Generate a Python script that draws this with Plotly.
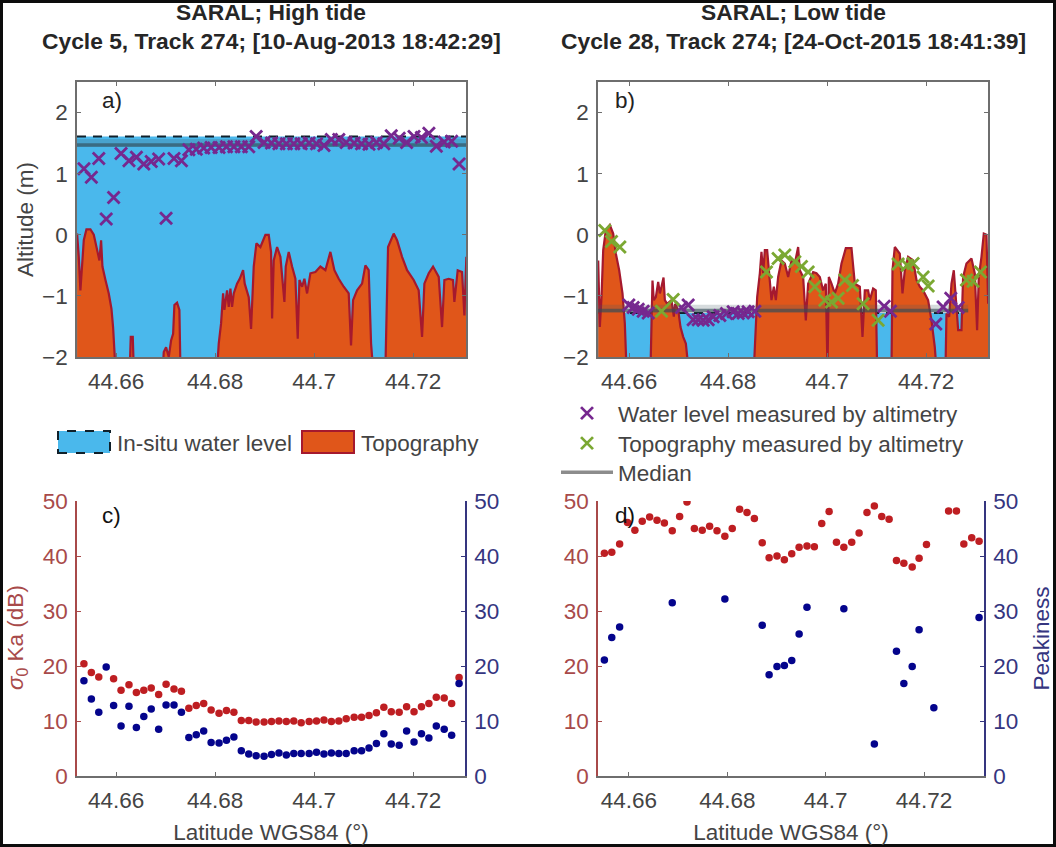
import plotly.graph_objects as go

W, H = 1056, 847

# topography profiles (lat, altitude)
topo_a = [
    (44.65212, 0.02), (44.65246, -0.36), (44.65279, -0.91), (44.65313, -0.52), (44.65347, -0.09),
    (44.65401, 0.09), (44.65481, 0.09), (44.65549, 0.0), (44.65616, -0.25), (44.65663, -0.42),
    (44.65697, -0.09), (44.65724, -0.52), (44.65785, -0.74), (44.65852, -0.96), (44.65906, -1.21),
    (44.65939, -1.51), (44.65987, -2.2),
    (44.66276, -2.2), (44.66296, -1.67), (44.66337, -1.67), (44.66357, -2.2),
    (44.66943, -2.2), (44.66963, -1.92), (44.67010, -1.84), (44.67064, -2.0), (44.67111, -1.73),
    (44.67152, -1.62), (44.67178, -1.15), (44.67232, -1.11), (44.67279, -1.23), (44.67300, -2.2),
    (44.68040, -2.2), (44.68074, -1.78), (44.68121, -1.45), (44.68162, -0.96), (44.68189, -1.23),
    (44.68242, -0.91), (44.68276, -1.18), (44.68310, -0.88), (44.68343, -1.18), (44.68377, -0.96),
    (44.68444, -0.80), (44.68498, -0.72), (44.68566, -0.58), (44.68599, -0.80), (44.68680, -1.02),
    (44.68727, -1.54), (44.68754, -1.13), (44.68781, -0.52), (44.68835, -0.14), (44.68916, -0.20),
    (44.69017, 0.0), (44.69084, 0.0), (44.69131, -0.28), (44.69152, -1.37), (44.69185, -0.42),
    (44.69253, -0.20), (44.69320, -0.36), (44.69401, -1.10), (44.69428, -0.52), (44.69488, -0.28),
    (44.69556, -0.52), (44.69623, -0.72), (44.69670, -1.70), (44.69704, -0.74), (44.69758, -0.85),
    (44.69805, -0.72), (44.69859, -0.96), (44.69926, -0.63), (44.70027, -0.61), (44.70128, -0.52),
    (44.70229, -0.58), (44.70330, -0.28), (44.70411, -0.58), (44.70498, -0.72), (44.70599, -0.85),
    (44.70700, -0.96), (44.70747, -1.81), (44.70788, -1.07), (44.70869, -0.91), (44.70970, -0.80),
    (44.71037, -0.50), (44.71104, -0.58), (44.71152, -1.78), (44.71192, -2.2),
    (44.71441, -2.2), (44.71475, -0.85), (44.71495, -0.20), (44.71609, 0.02), (44.71677, -0.09),
    (44.71778, -0.36), (44.71879, -0.58), (44.72013, -0.74), (44.72114, -0.91), (44.72182, -1.67),
    (44.72229, -0.80), (44.72317, -0.63), (44.72404, -0.52), (44.72519, -0.69), (44.72586, -1.51),
    (44.72633, -0.74), (44.72720, -0.72), (44.72808, -0.74), (44.72835, -1.10), (44.72902, -0.58),
    (44.72990, -0.61), (44.73037, -1.32), (44.73077, -0.36),
]
topo_b = [
    (44.65374, -0.42), (44.65407, -1.51), (44.65441, -1.02), (44.65475, -0.25), (44.65529, 0.08),
    (44.65609, 0.16), (44.65677, 0.02), (44.65731, -0.31), (44.65798, -0.58), (44.65865, -0.96),
    (44.65912, -1.45), (44.65946, -2.2),
    (44.66431, -2.2), (44.66451, -1.62), (44.66471, -0.75), (44.66498, -1.07), (44.66539, -1.02),
    (44.66586, -0.77), (44.66620, -0.96), (44.66653, -0.85), (44.66694, -0.70), (44.66721, -1.07),
    (44.66768, -1.13), (44.66855, -1.07), (44.66902, -1.34), (44.66929, -1.13), (44.66990, -1.23),
    (44.67037, -1.51), (44.67091, -1.67), (44.67145, -1.78), (44.67199, -2.2),
    (44.68519, -2.2), (44.68559, -1.45), (44.68586, -1.02), (44.68640, -0.63), (44.68673, -0.28),
    (44.68707, -0.63), (44.68741, -0.25), (44.68788, -0.25), (44.68828, -0.69), (44.68875, -1.07),
    (44.68923, -0.85), (44.68963, -1.07), (44.69010, -0.69), (44.69077, -0.42), (44.69145, -0.47),
    (44.69212, -0.69), (44.69279, -0.42), (44.69347, -0.47), (44.69414, -0.20), (44.69448, -0.58),
    (44.69515, -0.69), (44.69569, -1.40), (44.69616, -0.80), (44.69717, -0.61), (44.69784, -0.63),
    (44.69852, -0.69), (44.69919, -0.91), (44.69973, -0.80), (44.70007, -2.2), (44.70034, -0.69),
    (44.70088, -0.80), (44.70155, -0.96), (44.70222, -0.80), (44.70290, -0.47), (44.70377, -0.22),
    (44.70492, -0.22), (44.70559, -0.80), (44.70660, -0.85), (44.70714, -1.67), (44.70761, -0.91),
    (44.70828, -0.91), (44.70862, -1.07), (44.70929, -0.88), (44.70983, -0.91), (44.71010, -2.2),
    (44.71300, -2.2), (44.71320, -0.58), (44.71367, -0.20), (44.71468, -0.31), (44.71522, -0.96),
    (44.71569, -0.58), (44.71636, -0.36), (44.71737, -0.42), (44.71805, -0.74), (44.71872, -0.85),
    (44.71939, -0.91), (44.72040, -1.07), (44.72108, -1.40), (44.72175, -1.84), (44.72209, -2.2),
    (44.72391, -2.2), (44.72411, -1.29), (44.72465, -1.34), (44.72512, -0.80), (44.72559, -0.58),
    (44.72613, -1.29), (44.72647, -1.56), (44.72714, -1.56), (44.72747, -0.69), (44.72815, -0.47),
    (44.72916, -0.39), (44.72983, -0.63), (44.73030, -1.56), (44.73064, -0.69), (44.73118, -0.36),
    (44.73165, 0.02), (44.73219, 0.0), (44.73253, -1.13),
]

# along-track lat of the 51 measurements of cycle 5
lat_c5 = [44.6535, 44.6550, 44.6565, 44.6580, 44.6595, 44.6610, 44.6626, 44.6641, 44.6656, 44.6671,
          44.6686, 44.6701, 44.6717, 44.6732, 44.6747, 44.6762, 44.6777, 44.6792, 44.6808, 44.6823,
          44.6838, 44.6853, 44.6868, 44.6883, 44.6899, 44.6914, 44.6929, 44.6944, 44.6959, 44.6974,
          44.6990, 44.7005, 44.7020, 44.7035, 44.7050, 44.7065, 44.7081, 44.7096, 44.7111, 44.7126,
          44.7141, 44.7156, 44.7172, 44.7187, 44.7202, 44.7217, 44.7232, 44.7247, 44.7263, 44.7278,
          44.7293]
water_a = [1.08, 0.94, 1.25, 0.26, 0.61, 1.33, 1.21, 1.27, 1.16, 1.20,
           1.24, 0.27, 1.25, 1.21, 1.39, 1.40, 1.42, 1.43, 1.43, 1.44,
           1.44, 1.44, 1.44, 1.61, 1.51, 1.50, 1.49, 1.49, 1.49, 1.49,
           1.50, 1.49, 1.46, 1.56, 1.56, 1.51, 1.50, 1.49, 1.48, 1.51,
           1.49, 1.62, 1.58, 1.51, 1.61, 1.59, 1.66, 1.45, 1.52, 1.53,
           1.16]
sigma_c = [20.4, 18.8, 18.0, None, 17.7, 15.6, 16.6, 15.2, 15.6, 16.0,
           14.8, 16.7, 15.8, 15.4, 12.3, 12.8, 13.2, 12.0, 11.4, 11.9,
           11.6, 10.1, 10.1, 9.8, 9.8, 9.9, 10.0, 9.9, 10.0, 9.7,
           9.9, 10.0, 10.2, 9.9, 10.0, 10.4, 10.7, 10.7, 11.0, 11.5,
           12.5, 11.7, 11.6, 12.6, 11.7, 12.6, 13.2, 14.3, 14.2, 13.2,
           17.9]
peak_c = [17.3, 14.0, 11.6, 19.8, 12.8, 9.1, 12.7, 8.8, 10.8, 12.2,
          8.5, 12.9, 12.9, 11.6, 7.0, 7.5, 8.2, 6.1, 6.0, 6.5,
          7.1, 4.6, 4.0, 3.7, 3.6, 3.9, 4.2, 3.8, 4.1, 4.1,
          4.1, 4.3, 4.0, 4.2, 4.1, 4.1, 4.6, 4.6, 5.1, 5.9,
          7.7, 5.8, 5.6, 8.2, 6.2, 7.7, 6.9, 9.1, 8.5, 7.4,
          16.8]

water_b = [(44.65993, -1.15), (44.66081, -1.19), (44.66182, -1.22), (44.66283, -1.25), (44.66384, -1.28),
           (44.67057, -1.19), (44.67192, -1.15), (44.67293, -1.39), (44.67394, -1.39), (44.67495, -1.40),
           (44.67596, -1.39), (44.67697, -1.34), (44.67832, -1.32), (44.67966, -1.29), (44.68101, -1.26),
           (44.68202, -1.29), (44.68303, -1.28), (44.68404, -1.26), (44.68539, -1.25), (44.71152, -1.17),
           (44.71279, -1.25), (44.72195, -1.46), (44.72343, -1.18), (44.72498, -1.04), (44.72647, -1.19)]
ground_b = [(44.65508, 0.07), (44.65643, -0.11), (44.65811, -0.20), (44.66653, -1.25), (44.66889, -1.06),
            (44.68774, -0.61), (44.69010, -0.39), (44.69145, -0.33), (44.69347, -0.44), (44.69481, -0.52),
            (44.69616, -0.61), (44.69751, -0.85), (44.69953, -1.07), (44.70088, -1.10), (44.70222, -1.04),
            (44.70357, -0.74), (44.70512, -0.83), (44.70727, -1.13), (44.71030, -1.40), (44.71434, -0.48),
            (44.71616, -0.50), (44.71737, -0.47), (44.71939, -0.69), (44.72040, -0.84), (44.72815, -0.74),
            (44.72949, -0.76), (44.73098, -0.61)]

sigma_d = [(44.6550, 40.5), (44.6565, 40.7), (44.6581, 42.2), (44.6597, 46.1), (44.6612, 44.7), (44.6627, 46.3),
           (44.6642, 47.1), (44.6657, 46.5), (44.6672, 46.0), (44.6688, 44.6), (44.6703, 47.2), (44.6718, 49.8),
           (44.6733, 45.0), (44.6749, 44.7), (44.6764, 45.4), (44.6779, 44.6), (44.6795, 43.6), (44.6810, 45.0),
           (44.6825, 48.5), (44.6840, 47.9), (44.6855, 46.8), (44.6871, 42.4), (44.6885, 39.7), (44.6901, 40.0),
           (44.6916, 39.3), (44.6931, 40.4), (44.6946, 41.6), (44.6962, 41.8), (44.6977, 41.7), (44.6992, 45.9),
           (44.7007, 48.1), (44.7022, 42.5), (44.7037, 41.6), (44.7053, 42.5), (44.7068, 44.2), (44.7084, 47.9),
           (44.7099, 49.1), (44.7114, 47.2), (44.7129, 46.7), (44.7144, 39.2), (44.7159, 38.7), (44.7176, 38.0),
           (44.7190, 39.6), (44.7205, 42.1), (44.7250, 48.2), (44.7266, 48.2), (44.7281, 42.2), (44.7297, 43.3),
           (44.7312, 42.7)]
peak_d = [(44.6550, 21.1), (44.6565, 25.2), (44.6581, 27.1), (44.6688, 31.5), (44.6795, 32.2), (44.6871, 27.4),
          (44.6885, 18.4), (44.6901, 19.9), (44.6916, 20.1), (44.6931, 21.0), (44.6946, 25.8), (44.6962, 30.7),
          (44.7037, 30.4), (44.7099, 5.8), (44.7144, 22.7), (44.7159, 16.8), (44.7176, 19.9), (44.7190, 26.6),
          (44.7220, 12.4), (44.7312, 28.8)]

FONT = "Liberation Sans"
BLUE = "#4AB8EC"
ORANGE = "#E0561A"
DARKRED = "#A5192E"
PURPLE = "#76288F"
GREEN = "#7BA832"
GREY = "#444444"
AXGREY = "#6E6E6E"
REDAX = "#A84A4A"
BLUEAX = "#35357F"
TXT = 22.5


def unzip(pts):
    return [p[0] for p in pts], [p[1] for p in pts]


def dom_x(left, right):
    return [left / W, right / W]


def dom_y(top, bottom):
    return [1 - bottom / H, 1 - top / H]


fig = go.Figure()


def add_profile(xref, yref, rng, level, topo):
    # water first, orange ground over it, both filled from the -2 floor
    fig.add_trace(go.Scatter(x=rng, y=[-2, -2], xaxis=xref, yaxis=yref, mode="lines",
                             line=dict(width=0), showlegend=False, hoverinfo="skip"))
    fig.add_trace(go.Scatter(x=rng, y=[level, level], xaxis=xref, yaxis=yref, mode="lines", fill="tonexty",
                             fillcolor=BLUE, line=dict(color="#10202A", width=2, dash="9px,7px"),
                             name="In-situ water level", showlegend=False))
    lat, alt = unzip(topo)
    fig.add_trace(go.Scatter(x=lat, y=[-2] * len(lat), xaxis=xref, yaxis=yref, mode="lines",
                             line=dict(width=0), showlegend=False, hoverinfo="skip"))
    fig.add_trace(go.Scatter(x=lat, y=alt, xaxis=xref, yaxis=yref, mode="lines", fill="tonexty",
                             fillcolor=ORANGE, line=dict(color=DARKRED, width=2.2),
                             name="Topography", showlegend=False))


def add_median(x, y, xref, yref):
    # blurred in the scan: a pale halo above a darker core
    fig.add_trace(go.Scatter(x=x, y=[y + 0.03, y + 0.03], xaxis=xref, yaxis=yref, mode="lines", showlegend=False,
                             line=dict(color="rgba(70,90,100,0.22)", width=8), hoverinfo="skip"))
    fig.add_trace(go.Scatter(x=x, y=[y, y], xaxis=xref, yaxis=yref, mode="lines", showlegend=False,
                             line=dict(color="rgba(50,75,85,0.62)", width=3.5)))


def add_marks(x, y, xref, yref, color, name, legend=None):
    fig.add_trace(go.Scatter(x=x, y=y, xaxis=xref, yaxis=yref, mode="markers", name=name,
                             showlegend=legend is not None, legend=legend or "legend",
                             marker=dict(symbol="x-thin", size=12, line=dict(color=color, width=2.8))))


range_a = [44.6521, 44.7307]
range_b = [44.6537, 44.7325]
range_c = [44.6521, 44.7305]
range_d = [44.6537, 44.7322]

# a)
add_profile("x", "y", range_a, 1.61, topo_a)
add_median(range_a, 1.47, "x", "y")
add_marks(lat_c5, water_a, "x", "y", PURPLE, "Water level measured by altimetry")

# b)
add_profile("x2", "y2", range_b, -1.28, topo_b)
add_median([44.6537, 44.7285], -1.24, "x2", "y2")
add_marks(*unzip(water_b), "x2", "y2", PURPLE, "Water level measured by altimetry", legend="legend")
add_marks(*unzip(ground_b), "x2", "y2", GREEN, "Topography measured by altimetry", legend="legend2")
fig.add_trace(go.Scatter(x=[None], y=[None], xaxis="x2", yaxis="y2", mode="lines", name="Median",
                         legend="legend3", line=dict(color="#8C8C8C", width=3.5)))

# c)
fig.add_trace(go.Scatter(x=lat_c5, y=sigma_c, xaxis="x3", yaxis="y3", mode="markers", showlegend=False,
                         marker=dict(color="#BE1E22", size=7.5)))
fig.add_trace(go.Scatter(x=lat_c5, y=peak_c, xaxis="x3", yaxis="y5", mode="markers", showlegend=False,
                         marker=dict(color="#04048C", size=7.5)))

# d)
fig.add_trace(go.Scatter(x=unzip(sigma_d)[0], y=unzip(sigma_d)[1], xaxis="x4", yaxis="y4", mode="markers",
                         showlegend=False, marker=dict(color="#BE1E22", size=7.5)))
fig.add_trace(go.Scatter(x=unzip(peak_d)[0], y=unzip(peak_d)[1], xaxis="x4", yaxis="y6", mode="markers",
                         showlegend=False, marker=dict(color="#04048C", size=7.5)))

xticks = dict(tickmode="array", tickvals=[44.66, 44.68, 44.7, 44.72], ticktext=["44.66", "44.68", "44.7", "44.72"],
              ticks="inside", ticklen=4, tickcolor=AXGREY, showgrid=False, zeroline=False, ticklabelstandoff=3,
              showline=True, linecolor=AXGREY, linewidth=1.5, tickfont=dict(size=TXT, color=GREY))
alt_ticks = dict(tickmode="array", tickvals=[-2, -1, 0, 1, 2], range=[-2, 2.5], ticks="inside", ticklen=4,
                 tickcolor=AXGREY, showgrid=False, zeroline=False, showline=True, linecolor=AXGREY,
                 linewidth=1.5, ticklabelstandoff=3, tickfont=dict(size=TXT, color=GREY), domain=dom_y(82, 357))


def db_axis(color, side, anchor, **kw):
    return dict(range=[0, 50], tickvals=[0, 10, 20, 30, 40, 50], ticks="inside", ticklen=4, tickcolor=color,
                showgrid=False, zeroline=False, showline=True, linecolor=color, linewidth=1.5, side=side,
                ticklabelstandoff=3, anchor=anchor, domain=dom_y(501, 776),
                tickfont=dict(size=TXT, color=color), **kw)


def legend_row(top):
    return dict(x=556 / W, y=1 - top / H, xanchor="left", yanchor="top", bgcolor="rgba(0,0,0,0)",
                font=dict(size=TXT, color=GREY), itemwidth=52)


fig.update_layout(
    width=W, height=H, margin=dict(l=0, r=0, t=0, b=0, autoexpand=False), paper_bgcolor="white", plot_bgcolor="white",
    font=dict(family=FONT, color=GREY),
    xaxis=dict(domain=dom_x(77, 466), range=range_a, mirror="ticks", anchor="y", **xticks),
    yaxis=dict(anchor="x", mirror="ticks", title=dict(text="Altitude (m)", font=dict(size=TXT), standoff=2), **alt_ticks),
    xaxis2=dict(domain=dom_x(598, 988), range=range_b, mirror="ticks", anchor="y2", **xticks),
    yaxis2=dict(anchor="x2", mirror="ticks", **alt_ticks),
    xaxis3=dict(domain=dom_x(77, 465), range=range_c, anchor="y3",
                title=dict(text="Latitude WGS84 (°)", font=dict(size=TXT), standoff=12), **xticks),
    yaxis3=db_axis(REDAX, "left", "x3"),
    yaxis5=db_axis(BLUEAX, "right", "x3", overlaying="y3"),
    xaxis4=dict(domain=dom_x(598, 984), range=range_d, anchor="y4",
                title=dict(text="Latitude WGS84 (°)", font=dict(size=TXT), standoff=12), **xticks),
    yaxis4=db_axis(REDAX, "left", "x4"),
    yaxis6=db_axis(BLUEAX, "right", "x4", overlaying="y4",
                   title=dict(text="Peakiness", font=dict(size=TXT, color=BLUEAX), standoff=16)),
    legend=legend_row(392),
    legend2=legend_row(422),
    legend3=legend_row(451),
)


def note(text, px, py, size=TXT, color=GREY, anchor="center", angle=0):
    fig.add_annotation(text=text, xref="paper", yref="paper", x=px / W, y=1 - py / H, showarrow=False,
                       xanchor=anchor, yanchor="middle", textangle=angle, font=dict(size=size, color=color))


TITLE = "#262626"
note("<b>SARAL; High tide</b>", 271, 12, 22.8, TITLE)
note("<b>Cycle 5, Track 274; [10-Aug-2013 18:42:29]</b>", 271, 41, 22.8, TITLE)
note("<b>SARAL; Low tide</b>", 793, 12, 22.8, TITLE)
note("<b>Cycle 28, Track 274; [24-Oct-2015 18:41:39]</b>", 793, 41, 22.8, TITLE)
note("a)", 100, 100, color="#222222", anchor="left")
note("b)", 613, 100, color="#222222", anchor="left")
note("c)", 100, 515, color="#111111", anchor="left")
note("d)", 613, 515, color="#111111", anchor="left")
note("<i>σ</i><sub>0</sub> Ka (dB)", 17, 638, color=REDAX, angle=-90)

# left legend is drawn by hand: swatches are bigger than plotly's
fig.add_shape(type="rect", xref="paper", yref="paper", x0=58 / W, x1=110 / W, y0=1 - 453 / H, y1=1 - 431 / H,
              fillcolor=BLUE, line=dict(color="#10202A", width=2, dash="dash"))
fig.add_shape(type="rect", xref="paper", yref="paper", x0=302 / W, x1=354 / W, y0=1 - 453 / H, y1=1 - 431 / H,
              fillcolor=ORANGE, line=dict(color=DARKRED, width=2))
note("In-situ water level", 115, 443, anchor="left")
note("Topography", 359, 443, anchor="left")

# the scan has dark edges
for x0, x1, y0, y1 in [(0, 3, 0, H), (1053, W, 0, H), (0, W, 0, 3), (0, W, 844, H)]:
    fig.add_shape(type="rect", xref="paper", yref="paper", x0=x0 / W, x1=x1 / W, y0=1 - y1 / H, y1=1 - y0 / H,
                  fillcolor="#0C0C0C", line_width=0)

fig.write_html("out.html", config={"displayModeBar": False}, post_script="document.body.style.margin='0';")
